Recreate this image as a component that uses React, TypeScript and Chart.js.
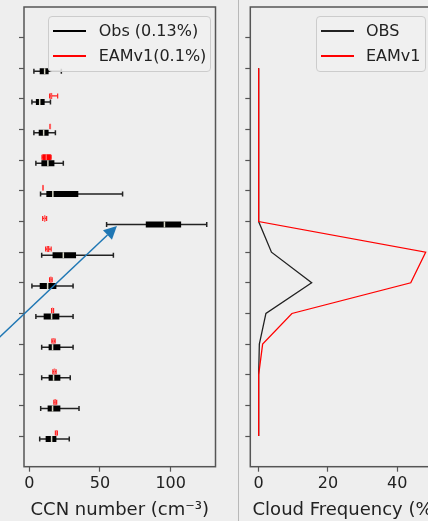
import React, { useEffect, useRef } from "react";
import { Chart, registerables } from "chart.js";

Chart.register(...registerables);

// ---- data ----
const levels = [1, 2, 3, 4, 5, 6, 7, 8, 9, 10, 11, 12, 13, 14];

// Observations (box stats per level, bottom -> top)
const obsMin = [7.4, 8.1, 8.8, 8.8, 4.7, 1.9, 8.8, 54.7, 8.0, 4.7, 3.3, 1.9, 3.3, null];
const obsQ1 = [11.6, 13.0, 13.7, 13.7, 10.2, 7.4, 16.5, 82.4, 12.1, 8.6, 6.7, 4.7, 7.4, null];
const obsMed = [15.8, 16.5, 17.2, 16.5, 15.8, 13.0, 24.1, 95.6, 16.7, 13.2, 10.2, 7.4, 10.9, null];
const obsQ3 = [19.2, 22.0, 22.0, 22.0, 21.3, 19.2, 33.1, 107.4, 34.7, 17.8, 13.7, 10.9, 13.7, null];
const obsMax = [28.3, 35.2, 29.0, 31.0, 31.0, 31.0, 59.5, 125.5, 66.0, 24.1, 18.5, 15.0, 22.7, null];

// EAMv1 model
const modMin = [18.5, 17.4, 16.7, 16.0, 15.8, 14.4, 11.6, 9.5, 9.6, 9.0, 14.6, 14.4, null, null];
const modQ1 = [18.9, 17.9, 17.3, 16.6, 16.2, 14.9, 12.4, 10.4, 9.7, 9.3, 14.7, 15.0, null, null];
const modMed = [19.2, 18.3, 17.8, 17.1, 16.5, 15.3, 13.2, 10.9, 9.7, 12.0, 14.8, 15.5, null, null];
const modQ3 = [19.5, 18.8, 18.4, 17.7, 16.8, 15.7, 14.2, 11.4, 9.8, 15.3, 14.9, 16.2, null, null];
const modMax = [19.9, 19.4, 19.0, 18.3, 17.2, 16.2, 15.5, 12.3, 9.8, 15.5, 15.0, 20.1, null, null];

// Cloud frequency profiles (%)
const freqLevels = [1, 2, 3, 4, 5, 6, 7, 8, 9, 10, 11, 12, 13];
const obsFreq = [0, 0, 0, 0.2, 2.1, 15.3, 3.7, 0, 0, 0, 0, 0, 0];
const modFreq = [0, 0, 0, 1.15, 9.6, 43.9, 48.2, 0, 0, 0, 0, 0, 0];

const ccnTicks = [0, 50, 100];
const freqTicks = [0, 20, 40];

const arrowTail = { x: -25, y: 4.05 };
const arrowHead = { x: 62, y: 7.85 };

const OBS_OFF = -0.1;
const MOD_OFF = 0.1;

// ---- helpers ----
type P = { x: number | null; y: number | null };
function segments(lo: (number | null)[], hi: (number | null)[], off: number): P[] {
  const out: P[] = [];
  levels.forEach((l, i) => {
    if (lo[i] == null || hi[i] == null) return;
    out.push({ x: lo[i], y: l + off }, { x: hi[i], y: l + off }, { x: null, y: null });
  });
  return out;
}
function pts(v: (number | null)[], off: number): P[] {
  const out: P[] = [];
  levels.forEach((l, i) => {
    if (v[i] == null) return;
    out.push({ x: v[i], y: l + off });
  });
  return out;
}

const SPINE = "#555555";
const TEXT = "#222222";
const FONT = "'DejaVu Sans', sans-serif";

const framePlugin = {
  id: "frame",
  afterDatasetsDraw(chart: any) {
    const { ctx, chartArea: a } = chart;
    ctx.save();
    ctx.strokeStyle = SPINE;
    ctx.lineWidth = 1.5;
    ctx.strokeRect(a.left, a.top, a.right - a.left, a.bottom - a.top);
    ctx.restore();
  },
};

const arrowPlugin = {
  id: "arrow",
  afterDraw(chart: any) {
    const xs = chart.scales.x;
    const ys = chart.scales.y;
    const x0 = xs.getPixelForValue(arrowTail.x);
    const y0 = ys.getPixelForValue(arrowTail.y);
    const x1 = xs.getPixelForValue(arrowHead.x);
    const y1 = ys.getPixelForValue(arrowHead.y);
    const ang = Math.atan2(y1 - y0, x1 - x0);
    const hl = 13;
    const hw = 6.5;
    const c = Math.cos(ang);
    const s = Math.sin(ang);
    const bx = x1 - hl * c;
    const by = y1 - hl * s;
    const ctx = chart.ctx;
    ctx.save();
    ctx.strokeStyle = "#1f77b4";
    ctx.fillStyle = "#1f77b4";
    ctx.lineWidth = 1.5;
    ctx.beginPath();
    ctx.moveTo(x0, y0);
    ctx.lineTo(bx, by);
    ctx.stroke();
    ctx.beginPath();
    ctx.moveTo(x1, y1);
    ctx.lineTo(bx - hw * s, by + hw * c);
    ctx.lineTo(bx + hw * s, by - hw * c);
    ctx.closePath();
    ctx.fill();
    ctx.restore();
  },
};

function yAxis(width: number) {
  return {
    type: "linear" as const,
    min: 0,
    max: 15,
    afterBuildTicks: (axis: any) => {
      axis.ticks = levels.map((v) => ({ value: v }));
    },
    afterFit: (axis: any) => {
      axis.width = width;
    },
    ticks: { display: false },
    grid: {
      drawOnChartArea: false,
      drawTicks: true,
      tickLength: 5,
      tickColor: SPINE,
      tickWidth: 1.2,
    },
    border: { display: false },
  };
}

function xAxis(min: number, max: number, tickVals: number[], title: string) {
  return {
    type: "linear" as const,
    min,
    max,
    afterBuildTicks: (axis: any) => {
      axis.ticks = tickVals.map((v) => ({ value: v }));
    },
    afterFit: (axis: any) => {
      axis.height = 54.3;
    },
    ticks: {
      autoSkip: false,
      maxRotation: 0,
      padding: 3,
      color: TEXT,
      font: { family: FONT, size: 16 },
      callback: (v: any) => String(v),
    },
    grid: {
      drawOnChartArea: false,
      drawTicks: true,
      tickLength: 5,
      tickColor: SPINE,
      tickWidth: 1.2,
    },
    border: { display: false },
    title: {
      display: true,
      text: title,
      color: TEXT,
      font: { family: FONT, size: 18 },
      padding: { top: 0, bottom: 0 },
    },
  };
}

const commonOpts = {
  responsive: false,
  animation: false as const,
  devicePixelRatio: 1,
  events: [] as any[],
  plugins: { legend: { display: false }, tooltip: { enabled: false } },
};

export default function App() {
  const leftRef = useRef<HTMLCanvasElement>(null);
  const rightRef = useRef<HTMLCanvasElement>(null);

  useEffect(() => {
    Chart.defaults.font.family = FONT;

    const left = new Chart(leftRef.current as HTMLCanvasElement, {
      type: "scatter",
      data: {
        datasets: [
          // medians (drawn on top: first dataset drawn last)
          {
            data: pts(obsMed, OBS_OFF),
            showLine: false,
            pointStyle: "line",
            rotation: 90,
            pointRadius: 3,
            pointBorderWidth: 1.5,
            pointBorderColor: "#d8d8c8",
          } as any,
          {
            data: pts(modMed, MOD_OFF),
            showLine: false,
            pointStyle: "line",
            rotation: 90,
            pointRadius: 3,
            pointBorderWidth: 1,
            pointBorderColor: "#ff8080",
          } as any,
          // boxes
          {
            data: segments(obsQ1, obsQ3, OBS_OFF),
            showLine: true,
            spanGaps: false,
            borderColor: "#000000",
            borderWidth: 6,
            borderCapStyle: "butt",
            pointRadius: 0,
          } as any,
          {
            data: segments(modQ1, modQ3, MOD_OFF),
            showLine: true,
            spanGaps: false,
            borderColor: "#ff0000",
            borderWidth: 6,
            borderCapStyle: "butt",
            pointRadius: 0,
          } as any,
          // whiskers with caps
          {
            data: segments(obsMin, obsMax, OBS_OFF),
            showLine: true,
            spanGaps: false,
            borderColor: "#222222",
            borderWidth: 1.5,
            pointStyle: "line",
            rotation: 90,
            pointRadius: 2.5,
            pointBorderWidth: 1.5,
            pointBorderColor: "#222222",
          } as any,
          {
            data: segments(modMin, modMax, MOD_OFF),
            showLine: true,
            spanGaps: false,
            borderColor: "#ff2020",
            borderWidth: 1.2,
            pointStyle: "line",
            rotation: 90,
            pointRadius: 2.5,
            pointBorderWidth: 1.2,
            pointBorderColor: "#ff2020",
          } as any,
        ],
      },
      options: {
        ...commonOpts,
        layout: { padding: { left: 0, right: 1.7, top: 7, bottom: 0 } },
        scales: {
          x: xAxis(-3.7, 131.7, ccnTicks, "CCN number (cm⁻³)") as any,
          y: yAxis(24) as any,
        },
      } as any,
      plugins: [framePlugin, arrowPlugin],
    });

    const right = new Chart(rightRef.current as HTMLCanvasElement, {
      type: "scatter",
      data: {
        datasets: [
          {
            label: "EAMv1",
            data: freqLevels.map((l, i) => ({ x: modFreq[i], y: l })),
            showLine: true,
            borderColor: "#ff0000",
            borderWidth: 1.3,
            pointRadius: 0,
          },
          {
            label: "OBS",
            data: freqLevels.map((l, i) => ({ x: obsFreq[i], y: l })),
            showLine: true,
            borderColor: "#222222",
            borderWidth: 1.3,
            pointRadius: 0,
          },
        ],
      },
      options: {
        ...commonOpts,
        layout: { padding: { left: 0, right: 8.2, top: 7, bottom: 0 } },
        scales: {
          x: xAxis(-2.41, 52.86, freqTicks, "Cloud Frequency (%)") as any,
          y: yAxis(10.3) as any,
        },
      } as any,
      plugins: [framePlugin],
    });

    return () => {
      left.destroy();
      right.destroy();
    };
  }, []);

  const legendBox = (left: number, width: number): React.CSSProperties => ({
    position: "absolute",
    left,
    top: 16,
    width,
    height: 56,
    boxSizing: "border-box",
    border: "1px solid #cccccc",
    borderRadius: 4,
    background: "rgba(240,240,240,0.85)",
  });
  const handle = (left: number, top: number, color: string): React.CSSProperties => ({
    position: "absolute",
    left,
    top: top - 0.75,
    width: 33,
    height: 1.5,
    background: color,
  });
  const label = (left: number, top: number): React.CSSProperties => ({
    position: "absolute",
    left,
    top: top - 10,
    lineHeight: "20px",
    fontSize: 16,
    fontFamily: FONT,
    color: TEXT,
    whiteSpace: "nowrap",
  });

  return (
    <div
      style={{
        position: "fixed",
        left: 0,
        top: 0,
        width: 428,
        height: 521,
        overflow: "hidden",
        background: "#eeeeee",
      }}
    >
      <canvas
        ref={leftRef}
        width={221}
        height={521}
        style={{ position: "absolute", left: 0, top: 0, width: 221, height: 521 }}
      />
      <div
        style={{
          position: "absolute",
          left: 238,
          top: 0,
          width: 1,
          height: 521,
          background: "#b8b8b8",
        }}
      />
      <canvas
        ref={rightRef}
        width={210}
        height={521}
        style={{ position: "absolute", left: 240, top: 0, width: 210, height: 521 }}
      />

      {/* left legend */}
      <div style={legendBox(47.7, 163)} />
      <div style={handle(53.3, 31, "#000000")} />
      <div style={label(98.7, 31)}>Obs (0.13%)</div>
      <div style={handle(53.3, 56, "#ff0000")} />
      <div style={label(98.7, 56)}>EAMv1(0.1%)</div>

      {/* right legend */}
      <div style={legendBox(315.7, 110)} />
      <div style={handle(321, 31, "#222222")} />
      <div style={label(366, 31)}>OBS</div>
      <div style={handle(321, 56, "#ff0000")} />
      <div style={label(366, 56)}>EAMv1</div>
    </div>
  );
}
